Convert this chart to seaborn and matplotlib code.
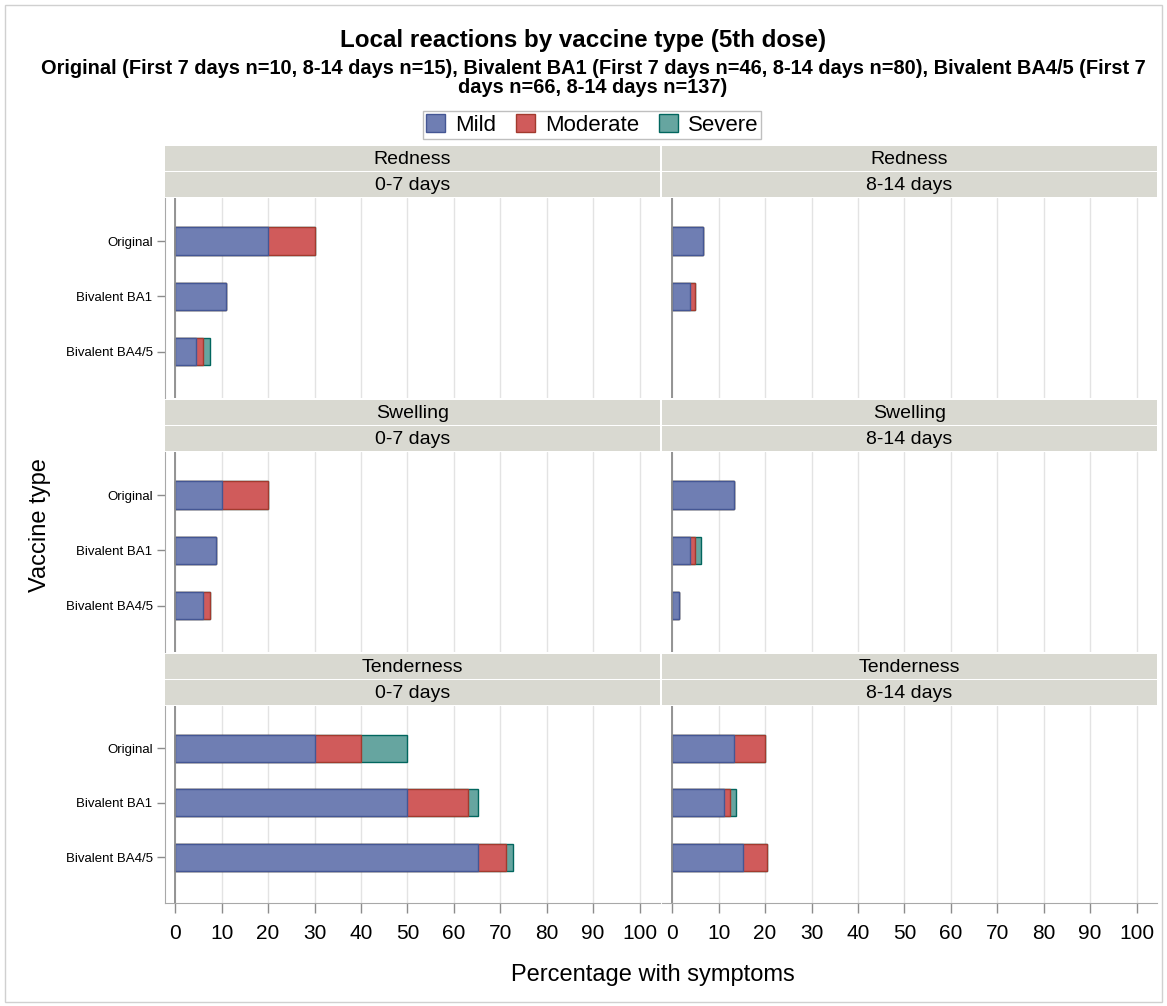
import numpy as np
import pandas as pd
import matplotlib
matplotlib.use("Agg")
import matplotlib.pyplot as plt
from matplotlib.patches import Patch, Rectangle
import seaborn as sns

# Local reactions by vaccine type, 5th dose (stacked by severity)

vaccines = ["Original", "Bivalent BA1", "Bivalent BA4/5"]
symptoms = ["Redness", "Swelling", "Tenderness"]
periods = ["0-7 days", "8-14 days"]
severity_levels = ["Mild", "Moderate", "Severe"]

symptom = ["Redness"] * 6 + ["Swelling"] * 6 + ["Tenderness"] * 6
period = (["0-7 days"] * 3 + ["8-14 days"] * 3) * 3
vaccine = vaccines * 6

mild = [20.0, 10.9, 4.55, 6.67, 3.75, 0.0,
        10.0, 8.7, 6.06, 13.33, 3.75, 1.46,
        30.0, 50.0, 65.15, 13.33, 11.25, 15.33]
moderate = [10.0, 0.0, 1.52, 0.0, 1.25, 0.0,
            10.0, 0.0, 1.52, 0.0, 1.25, 0.0,
            10.0, 13.04, 6.06, 6.67, 1.25, 5.11]
severe = [0.0, 0.0, 1.52, 0.0, 0.0, 0.0,
          0.0, 0.0, 0.0, 0.0, 1.25, 0.0,
          10.0, 2.17, 1.52, 0.0, 1.25, 0.0]

fill_colors = ["#6F7EB3", "#D05B5B", "#66A5A0"]
edge_colors = ["#445694", "#A23A2E", "#01665E"]

df = pd.DataFrame({
    "symptom": symptom,
    "period": period,
    "vaccine": vaccine,
    "Mild": mild,
    "Moderate": moderate,
    "Severe": severe,
})
# cumulative ends so the layers can be drawn back to front
df["cum_mild"] = df["Mild"]
df["cum_moderate"] = df["Mild"] + df["Moderate"]
df["cum_severe"] = df["cum_moderate"] + df["Severe"]

sns.set_style("white")
plt.rcParams["font.family"] = ["Liberation Sans", "DejaVu Sans"]
plt.rcParams["text.color"] = "black"
plt.rcParams["xtick.labelcolor"] = "black"
plt.rcParams["ytick.labelcolor"] = "black"

W, H = 1167, 1006
fig = plt.figure(figsize=(W / 100, H / 100), dpi=100)


def fx(x):
    return x / W


def fy(y):
    return 1 - y / H


# outer border
fig.patches.append(Rectangle((fx(5), fy(1002)), fx(1162) - fx(5), fy(5) - fy(1002),
                             transform=fig.transFigure, fill=False,
                             edgecolor="#D0D0D0", lw=1))

fig.text(fx(583), fy(40), "Local reactions by vaccine type (5th dose)",
         ha="center", va="center", fontsize=17.4, fontweight="bold")
fig.text(fx(593), fy(78),
         "Original (First 7 days n=10, 8-14 days n=15), Bivalent BA1 (First 7 days n=46, "
         "8-14 days n=80), Bivalent BA4/5 (First 7\ndays n=66, 8-14 days n=137)",
         ha="center", va="center", fontsize=14.4, fontweight="bold", linespacing=1.0)

handles = [Patch(facecolor=fill_colors[i], edgecolor=edge_colors[i], lw=1)
           for i in range(3)]
fig.legend(handles, severity_levels, loc="center",
           bbox_to_anchor=(fx(592), fy(125)), ncol=3, frameon=True,
           fancybox=False, edgecolor="#BFBFBF", framealpha=1, fontsize=16,
           handlelength=0.85, handleheight=0.85, columnspacing=0.9,
           handletextpad=0.45, borderpad=0.15, borderaxespad=0.3)

col_left = [165, 662]
col_width = 495
row_top = [198, 452, 706]
row_height = [200, 200, 197]
strip_h = 26

for r, sym in enumerate(symptoms):
    for c, per in enumerate(periods):
        x0 = col_left[c]
        y0 = row_top[r]
        # strip headers (two rows)
        for k, label in enumerate([sym, per]):
            top = y0 - 2 * strip_h + k * strip_h
            fig.patches.append(Rectangle((fx(x0), fy(top + strip_h - 1)), col_width / W,
                                         (strip_h - 1) / H, transform=fig.transFigure,
                                         facecolor="#D9D9D1", edgecolor="none"))
            fig.text(fx(x0 + col_width / 2), fy(top + strip_h / 2), label,
                     ha="center", va="center", fontsize=14)

        ax = fig.add_axes([fx(x0), fy(y0 + row_height[r]), col_width / W, row_height[r] / H])
        sub = df[(df["symptom"] == sym) & (df["period"] == per)]

        layers = ["cum_severe", "cum_moderate", "cum_mild"]
        for j, col in enumerate(layers):
            idx = 2 - j
            sns.barplot(data=sub, x=col, y="vaccine", order=vaccines, orient="h",
                        width=0.5, color=fill_colors[idx], edgecolor=edge_colors[idx],
                        linewidth=1, saturation=1, errorbar=None, ax=ax)

        # hide outlines of empty bars
        for p in ax.patches:
            if p.get_width() == 0:
                p.set_linewidth(0)

        ax.axvline(0, color="#8C8C8C", lw=1.3, zorder=5)
        ax.set_xlim(-2.2, 104.4)
        ax.set_ylim(2.84, -0.78)
        ax.set_xticks(np.arange(0, 101, 10))
        ax.set_axisbelow(True)
        ax.xaxis.grid(True, color="#E3E3E3", lw=1)
        ax.set_xlabel("")
        ax.set_ylabel("")
        for s in ["top", "right"]:
            ax.spines[s].set_visible(False)
        ax.spines["left"].set_visible(c == 0)
        ax.spines["left"].set_color("#A8A8A8")
        ax.spines["bottom"].set_visible(r == 2)
        ax.spines["bottom"].set_color("#A8A8A8")

        if c == 0:
            ax.tick_params(axis="y", labelsize=9.5, length=6, color="#8C8C8C",
                           width=1, left=True, pad=3)
        else:
            ax.tick_params(axis="y", left=False, labelleft=False)
        if r == 2:
            ax.tick_params(axis="x", labelsize=15, length=7, color="#8C8C8C",
                           width=1, bottom=True, pad=8)
        else:
            ax.tick_params(axis="x", bottom=False, labelbottom=False)

fig.text(fx(40), fy(525), "Vaccine type", rotation=90, ha="center", va="center",
         fontsize=17)
fig.text(fx(653), fy(975), "Percentage with symptoms", ha="center", va="center",
         fontsize=17)

plt.savefig("out.png", dpi=100)
